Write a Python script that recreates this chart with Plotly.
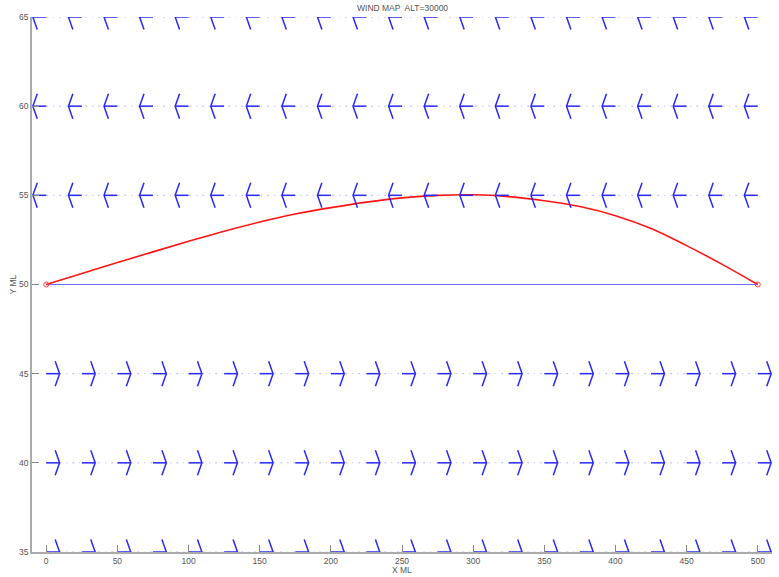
import plotly.graph_objects as go

# Wind field sample grid (X ML) and the rows (Y ML) where wind is sampled
grid_x = [0, 25, 50, 75, 100, 125, 150, 175, 200, 225, 250,
          275, 300, 325, 350, 375, 400, 425, 450, 475, 500]
row_y = [35, 40, 45, 55, 60, 65]
# East-west wind component per row (positive = eastward), in plot units
row_u = [9.4, 9.4, 9.4, -9.4, -9.4, -9.4]

# Flight path through the wind field
path_x = [0, 25, 50, 75, 100, 125, 150, 175, 200, 225, 250,
          275, 300, 325, 350, 375, 400, 425, 450, 475, 500]
path_y = [50.00, 50.62, 51.23, 51.83, 52.42, 52.99, 53.50, 53.95, 54.31, 54.62, 54.86,
          55.00, 55.03, 54.93, 54.70, 54.37, 53.86, 53.14, 52.18, 51.13, 50.00]

# Direct (straight) route between the endpoints
direct_x = [0, 500]
direct_y = [50, 50]

# Arrow head shape (fraction of shaft length, half-width in Y units)
HEAD_FRAC = 0.33
HEAD_HALF = 0.7

fig = go.Figure()

# dotted guide line along each wind row
for y in row_y:
    fig.add_trace(go.Scatter(
        x=[grid_x[0], grid_x[-1]], y=[y, y], mode="lines",
        line=dict(color="rgba(120,120,255,0.55)", width=1, dash="2px,5px,1px,5px"),
        hoverinfo="skip", showlegend=False))

# direct route
fig.add_trace(go.Scatter(
    x=direct_x, y=direct_y, mode="lines",
    line=dict(color="rgb(110,110,255)", width=1),
    hoverinfo="skip", showlegend=False))

# flight path with endpoint markers
fig.add_trace(go.Scatter(
    x=path_x, y=path_y, mode="lines",
    line=dict(color="rgb(255,20,20)", width=1.6, shape="spline", smoothing=1.0),
    hoverinfo="skip", showlegend=False))
fig.add_trace(go.Scatter(
    x=[path_x[0], path_x[-1]], y=[path_y[0], path_y[-1]], mode="markers",
    marker=dict(symbol="circle-open", size=5, color="rgb(255,60,60)", line=dict(width=1)),
    hoverinfo="skip", showlegend=False))

# quiver-style wind arrows
ax, ay = [], []
for y, u in zip(row_y, row_u):
    for x0 in grid_x:
        tip = x0 + u
        back = tip - HEAD_FRAC * u
        ax += [x0, tip, None, back, tip, back, None]
        ay += [y, y, None, y + HEAD_HALF, y, y - HEAD_HALF, None]
fig.add_trace(go.Scatter(
    x=ax, y=ay, mode="lines",
    line=dict(color="rgb(40,40,255)", width=1.5),
    hoverinfo="skip", showlegend=False))

axis_font = dict(family="Liberation Sans, Arial, sans-serif", size=8.5, color="#555")

fig.update_layout(
    width=779, height=577,
    margin=dict(l=32, r=7, t=17, b=25),
    paper_bgcolor="white", plot_bgcolor="white",
    xaxis=dict(range=[-10, 510], tickvals=[0, 50, 100, 150, 200, 250, 300, 350, 400, 450, 500],
               ticks="inside", ticklen=7, tickcolor="#888", tickwidth=1,
               showline=True, linecolor="#aaa", linewidth=1.8,
               showgrid=False, zeroline=False, tickfont=axis_font),
    yaxis=dict(range=[35, 65], tickvals=[35, 40, 45, 50, 55, 60, 65],
               ticks="inside", ticklen=7, tickcolor="#888", tickwidth=1,
               showline=True, linecolor="#aaa", linewidth=1.8,
               showgrid=False, zeroline=False, tickfont=axis_font),
    annotations=[
        dict(text="WIND MAP  ALT=30000", xref="paper", yref="paper", x=0.5, y=1,
             xanchor="center", yanchor="middle", yshift=9, showarrow=False, font=axis_font),
        dict(text="X ML", xref="paper", yref="paper", x=0.5, y=0,
             xanchor="center", yanchor="middle", yshift=-18, showarrow=False, font=axis_font),
        dict(text="Y ML", xref="paper", yref="paper", x=0, y=0.5, textangle=-90,
             xanchor="center", yanchor="middle", xshift=-20, showarrow=False, font=axis_font),
    ],
)

fig.write_html("out.html")
